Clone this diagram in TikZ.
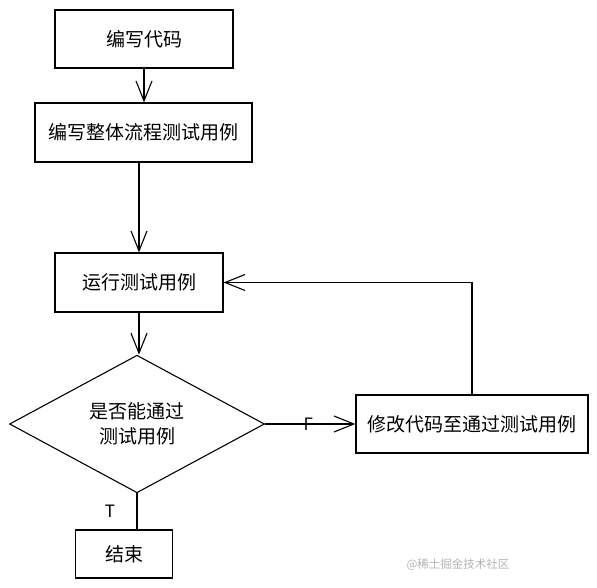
\documentclass[tikz,border=0pt]{standalone}
\usepackage{fontspec}
\newfontfamily\cjk{Noto Sans CJK SC}
\usetikzlibrary{arrows.meta,shapes.geometric}
\definecolor{wm}{HTML}{B4B4B4}

\begin{document}
\begin{tikzpicture}[x=1pt, y=-1pt, line width=1.1pt,
    >={Straight Barb[length=20pt, width=16pt]},
    box/.style={draw, rectangle, inner sep=0pt, font=\cjk\fontsize{19}{24}\selectfont},
    choice/.style={draw, diamond, inner sep=0pt, align=center, font=\cjk\fontsize{19}{25}\selectfont},
    tag/.style={font=\cjk\fontsize{17}{20}\selectfont}]
      \useasboundingbox (0,0) rectangle (597,588);
      % the steps
      \node[box, minimum width=178pt, minimum height=58pt] (code) at (144,39) {编写代码};
      \node[box, minimum width=217pt, minimum height=59pt] (flow) at (143.5,132.5) {编写整体流程测试用例};
      \node[box, minimum width=168pt, minimum height=59pt] (run) at (139,282.5) {运行测试用例};
      \node[choice, minimum width=255pt, minimum height=114pt] (pass) at (137,424) {是否能通过\\测试用例};
      \node[box, minimum width=232pt, minimum height=58pt] (fix) at (472,424) {修改代码至通过测试用例};
      \node[box, minimum width=97pt, minimum height=48pt] (done) at (124,554) {结束};
      % straight down the left column
      \draw[->] (code.south) -- (code.south |- flow.north);
      \draw[->] (run.north |- flow.south) -- (run.north);
      \draw[->] (run.south) -- (run.south |- pass.north);
      % F: go and fix the code
      \draw[->] (pass.east) -- (fix.west) node[tag, midway, xshift=-2pt] {F};
      % back to the test run
      \draw[->] (fix.north) |- (run.east);
      % T: finished
      \draw (pass.south) -- (pass.south |- done.north) node[tag, midway, left=18pt] {T};
      \node[text=wm, font=\cjk\fontsize{11.5}{14}\selectfont] (mark) at (458,565) {@稀土掘金技术社区};
    \end{tikzpicture}
\end{document}
